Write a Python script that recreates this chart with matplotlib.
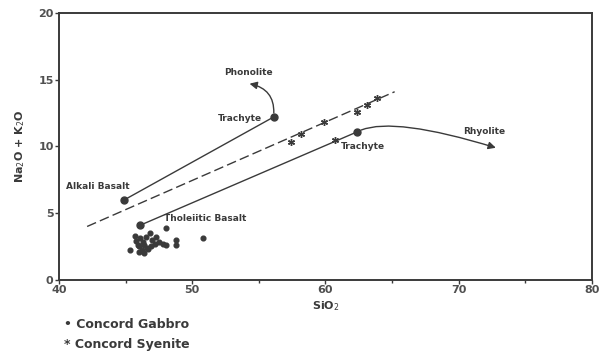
import matplotlib
matplotlib.use("Agg")
import matplotlib.pyplot as plt

# node points (SiO2, Na2O+K2O)
alkali_basalt = (44.9, 6.0)
trachyte_upper = (56.1, 12.2)
tholeiitic_basalt = (46.1, 4.1)
trachyte_lower = (62.4, 11.1)

# dashed dividing line
dash_x = [42.1, 65.2]
dash_y = [4.0, 14.1]

# arrow ends
phonolite_tip = (54.3, 14.7)
rhyolite_tip = (72.8, 9.9)

# Concord Gabbro
gabbro_x = [45.3, 45.8, 46.0, 46.2, 46.4, 46.1, 45.9, 46.3, 46.6, 46.5, 46.8, 47.0,
            47.2, 47.5, 47.3, 47.8, 48.0, 48.8, 48.8, 50.8, 48.0, 46.7, 46.0, 46.4,
            45.7, 46.9]
gabbro_y = [2.25, 2.9, 2.5, 2.2, 2.0, 3.1, 2.6, 2.8, 2.4, 3.2, 3.5, 3.0,
            2.7, 2.8, 3.2, 2.7, 2.6, 2.6, 3.0, 3.1, 3.9, 2.3, 2.1, 2.6,
            3.3, 2.5]

# Concord Syenite
syenite_x = [57.45, 58.2, 59.9, 60.7, 62.4, 63.1, 63.9]
syenite_y = [10.3, 10.9, 11.8, 10.5, 12.6, 13.1, 13.6]

ink = "#3a3a3a"

fig = plt.figure(figsize=(6.1, 3.52), dpi=100)
ax = fig.add_axes([0.097, 0.205, 0.873, 0.758])

ax.plot([alkali_basalt[0], trachyte_upper[0]], [alkali_basalt[1], trachyte_upper[1]],
        color=ink, lw=1.0)
ax.plot([tholeiitic_basalt[0], trachyte_lower[0]], [tholeiitic_basalt[1], trachyte_lower[1]],
        color=ink, lw=1.0)
ax.plot(dash_x, dash_y, color=ink, lw=1.0, dashes=(7, 3))

nodes = [alkali_basalt, trachyte_upper, tholeiitic_basalt, trachyte_lower]
ax.plot([p[0] for p in nodes], [p[1] for p in nodes], "o", color=ink, ms=5)

ax.annotate("", xy=phonolite_tip, xytext=trachyte_upper,
            arrowprops=dict(arrowstyle="-|>", color=ink, lw=1.0,
                            connectionstyle="arc3,rad=0.45", mutation_scale=11,
                            shrinkA=3, shrinkB=0))
ax.annotate("", xy=rhyolite_tip, xytext=trachyte_lower,
            arrowprops=dict(arrowstyle="-|>", color=ink, lw=1.0,
                            connectionstyle="angle3,angleA=28,angleB=-17",
                            mutation_scale=11, shrinkA=3, shrinkB=0))

ax.plot(gabbro_x, gabbro_y, "o", color=ink, ms=3.4, ls="none")
ax.plot(syenite_x, syenite_y, marker=(6, 2, 0), color=ink, ms=5, mew=1.0, ls="none")

lab = dict(fontsize=6.5, fontweight="bold", color=ink)
ax.text(54.2, 15.55, "Phonolite", ha="center", va="center", **lab)
ax.text(53.6, 12.1, "Trachyte", ha="center", va="center", **lab)
ax.text(42.9, 7.0, "Alkali Basalt", ha="center", va="center", **lab)
ax.text(47.9, 4.57, "Tholeiitic Basalt", ha="left", va="center", **lab)
ax.text(62.85, 10.0, "Trachyte", ha="center", va="center", **lab)
ax.text(71.9, 11.1, "Rhyolite", ha="center", va="center", **lab)

ax.set_xlim(40, 80)
ax.set_ylim(0, 20)
ax.set_xticks([40, 50, 60, 70, 80])
ax.set_xticks([45, 55, 65, 75], minor=True)
ax.set_yticks([0, 5, 10, 15, 20])
ax.tick_params(axis="both", which="major", length=3, width=1, color=ink,
               labelsize=8, labelcolor="#505050", pad=1)
ax.tick_params(axis="x", which="minor", length=2, width=1, color=ink)
for t in ax.get_xticklabels() + ax.get_yticklabels():
    t.set_fontweight("bold")
for s in ax.spines.values():
    s.set_color(ink)
    s.set_linewidth(1.4)

ax.set_xlabel("SiO$_2$", fontsize=8, fontweight="bold", color=ink, labelpad=3)
ax.set_ylabel("Na$_2$O + K$_2$O", fontsize=8, fontweight="bold", color=ink, labelpad=8)

fig.text(0.105, 0.077, "\u2022 Concord Gabbro", fontsize=9, fontweight="bold", color=ink,
         va="center")
fig.text(0.105, 0.022, "* Concord Syenite", fontsize=9, fontweight="bold", color=ink,
         va="center")

fig.savefig("out.png", dpi=100)
